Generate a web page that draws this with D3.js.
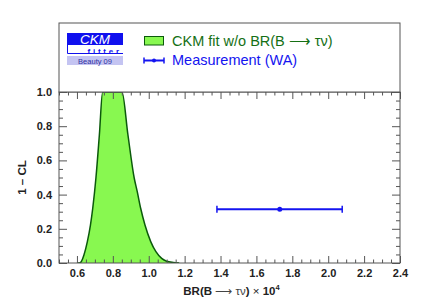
<!DOCTYPE html>
<html>
<head>
<meta charset="utf-8">
<script src="https://cdn.jsdelivr.net/npm/d3@7"></script>
<style>
  body { margin: 0; background: #fff; }
  svg { display: block; font-family: "Liberation Sans", Arial, sans-serif; }
</style>
</head>
<body>
<div id="chart"></div>
<script>
// CKM fit curve: BR(B -> tau nu) x 1e4 vs 1 - CL
var fitX = [0.600, 0.613, 0.625, 0.639, 0.658, 0.675, 0.688, 0.706, 0.725, 0.743,
            0.851, 0.884, 0.919, 0.936, 0.955, 0.979, 1.011, 1.040, 1.072, 1.100, 1.137, 1.170];
var fitY = [0.000, 0.000, 0.010, 0.047, 0.125, 0.220, 0.320, 0.500, 0.750, 1.000,
            1.000, 0.750, 0.497, 0.417, 0.320, 0.222, 0.125, 0.066, 0.027, 0.010, 0.003, 0.000];

// World average measurement with its error bar
var measCenter = 1.73;
var measLow = 1.38;
var measHigh = 2.078;
var measCL = 0.315;

var xTicks = [0.6, 0.8, 1.0, 1.2, 1.4, 1.6, 1.8, 2.0, 2.2, 2.4];
var yTicks = [0.0, 0.2, 0.4, 0.6, 0.8, 1.0];

var legendLabels = ["CKM fit w/o BR(B \u27f6 \u03c4\u03bd)", "Measurement (WA)"];

var fitData = fitX.map(function(d, i) { return {x: d, y: fitY[i]}; });

var width = 421, height = 307;
var margin = {left: 59, right: 21, top: 92, bottom: 44};
var w = width - margin.left - margin.right;
var h = height - margin.top - margin.bottom;

var green = "#88f850", darkGreen = "#0b5a0b", blue = "#1414f0", frame = "#555";

var svg = d3.select("#chart").append("svg")
    .attr("width", width)
    .attr("height", height);

var chart = svg.append("g")
    .attr("transform", "translate(" + margin.left + "," + margin.top + ")");

var x = d3.scaleLinear().domain([0.5, 2.4]).range([0, w]);
var y = d3.scaleLinear().domain([0, 1]).range([h, 0]);

// clip so the curve does not poke through the frame
chart.append("clipPath").attr("id", "clip")
    .append("rect").attr("width", w).attr("height", h);

var area = d3.area()
    .x(function(d) { return x(d.x); })
    .y0(h)
    .y1(function(d) { return y(d.y); })
    .curve(d3.curveMonotoneX);

var line = d3.line()
    .x(function(d) { return x(d.x); })
    .y(function(d) { return y(d.y); })
    .curve(d3.curveMonotoneX);

var plot = chart.append("g").attr("clip-path", "url(#clip)");

plot.append("path")
    .datum(fitData)
    .attr("d", area)
    .attr("fill", green);

plot.append("path")
    .datum(fitData)
    .attr("d", line)
    .attr("fill", "none")
    .attr("stroke", darkGreen)
    .attr("stroke-width", 1.5);

// measurement point with horizontal error bar
var meas = chart.append("g").attr("stroke", blue).attr("fill", blue);
meas.append("line")
    .attr("x1", x(measLow)).attr("x2", x(measHigh))
    .attr("y1", y(measCL)).attr("y2", y(measCL))
    .attr("stroke-width", 2);
[measLow, measHigh].forEach(function(v) {
    meas.append("line")
        .attr("x1", x(v)).attr("x2", x(v))
        .attr("y1", y(measCL) - 3.5).attr("y2", y(measCL) + 3.5)
        .attr("stroke-width", 1.5);
});
meas.append("circle")
    .attr("cx", x(measCenter)).attr("cy", y(measCL)).attr("r", 2.5)
    .attr("stroke", "none");

// minor tick values
var xMinor = d3.range(0.5, 2.4001, 0.05).filter(function(v) {
    return Math.abs(v * 5 - Math.round(v * 5)) > 1e-6;
});
var yMinor = d3.range(0, 1.0001, 0.05).filter(function(v) {
    return Math.abs(v * 5 - Math.round(v * 5)) > 1e-6;
});

function styleAxis(g) {
    g.select(".domain").remove();
    g.selectAll(".tick line").attr("stroke", frame);
    g.selectAll("text")
        .attr("fill", "#222")
        .style("font-size", "11px")
        .style("font-weight", "bold");
}

// bottom axis
chart.append("g")
    .attr("transform", "translate(0," + h + ")")
    .call(d3.axisBottom(x).tickValues(xTicks).tickFormat(d3.format(".1f"))
        .tickSizeInner(-7).tickSizeOuter(0).tickPadding(6))
    .call(styleAxis);
chart.append("g")
    .attr("transform", "translate(0," + h + ")")
    .call(d3.axisBottom(x).tickValues(xMinor).tickFormat("")
        .tickSizeInner(-3.5).tickSizeOuter(0))
    .call(styleAxis);
// top axis (mirrored ticks)
chart.append("g")
    .call(d3.axisTop(x).tickValues(xTicks).tickFormat("")
        .tickSizeInner(-7).tickSizeOuter(0))
    .call(styleAxis);
chart.append("g")
    .call(d3.axisTop(x).tickValues(xMinor).tickFormat("")
        .tickSizeInner(-3.5).tickSizeOuter(0))
    .call(styleAxis);

// left axis
chart.append("g")
    .call(d3.axisLeft(y).tickValues(yTicks).tickFormat(d3.format(".1f"))
        .tickSizeInner(-8).tickSizeOuter(0).tickPadding(7))
    .call(styleAxis);
chart.append("g")
    .call(d3.axisLeft(y).tickValues(yMinor).tickFormat("")
        .tickSizeInner(-4).tickSizeOuter(0))
    .call(styleAxis);
// right axis (mirrored ticks)
chart.append("g")
    .attr("transform", "translate(" + w + ",0)")
    .call(d3.axisRight(y).tickValues(yTicks).tickFormat("")
        .tickSizeInner(-8).tickSizeOuter(0))
    .call(styleAxis);
chart.append("g")
    .attr("transform", "translate(" + w + ",0)")
    .call(d3.axisRight(y).tickValues(yMinor).tickFormat("")
        .tickSizeInner(-4).tickSizeOuter(0))
    .call(styleAxis);

// plot frame
chart.append("rect")
    .attr("width", w).attr("height", h)
    .attr("fill", "none").attr("stroke", frame).attr("stroke-width", 1);

// axis titles
var xTitle = svg.append("text")
    .attr("x", margin.left + w / 2 + 2)
    .attr("y", 295)
    .attr("text-anchor", "middle")
    .attr("fill", "#222")
    .style("font-size", "11.5px")
    .style("font-weight", "bold");
xTitle.append("tspan").text("BR(B ");
xTitle.append("tspan").style("font-weight", "normal").attr("fill", "#444").text("\u27f6 \u03c4\u03bd");
xTitle.append("tspan").text(") ");
xTitle.append("tspan").style("font-weight", "normal").text("\u00d7 ");
xTitle.append("tspan").text("10");
xTitle.append("tspan").attr("dy", -5).style("font-size", "7.5px").text("4");

svg.append("text")
    .attr("transform", "translate(26," + (margin.top + h / 2) + ") rotate(-90)")
    .attr("text-anchor", "middle")
    .attr("fill", "#222")
    .style("font-size", "11.5px")
    .style("font-weight", "bold")
    .text("1 \u2013 CL");

// legend box sitting on top of the plot
var legend = svg.append("g");
legend.append("rect")
    .attr("x", margin.left).attr("y", 23)
    .attr("width", w).attr("height", margin.top - 23)
    .attr("fill", "#fff").attr("stroke", frame).attr("stroke-width", 1);

// CKMfitter logo
var logo = legend.append("g").attr("transform", "translate(67,33)");
logo.append("rect").attr("width", 56).attr("height", 12).attr("fill", "#1010ee");
logo.append("text")
    .attr("x", 28).attr("y", 10.5)
    .attr("text-anchor", "middle")
    .attr("fill", "#fff")
    .style("font-size", "13.5px")
    .style("font-style", "italic")
    .text("CKM");
logo.append("path")
    .attr("d", "M0.5,12 V20.5 H56")
    .attr("fill", "none").attr("stroke", "#1010ee").attr("stroke-width", 1);
logo.append("text")
    .attr("x", 55).attr("y", 20.5)
    .attr("text-anchor", "end")
    .attr("fill", "#1010ee")
    .style("font-size", "8px")
    .style("font-weight", "bold")
    .style("letter-spacing", "2.8px")
    .text("fitter");
logo.append("rect").attr("y", 23).attr("width", 56).attr("height", 9).attr("fill", "#c4c4f2");
logo.append("text")
    .attr("x", 28).attr("y", 30.5)
    .attr("text-anchor", "middle")
    .attr("fill", "#3030a0")
    .style("font-size", "7.5px")
    .text("Beauty 09");

// legend entries
legend.append("rect")
    .attr("x", 144.5).attr("y", 36.5).attr("width", 19).attr("height", 8.5)
    .attr("fill", green).attr("stroke", darkGreen).attr("stroke-width", 1);
legend.append("text")
    .attr("x", 172).attr("y", 46)
    .attr("fill", "#157015")
    .style("font-size", "14.5px")
    .text(legendLabels[0]);

var lm = legend.append("g").attr("stroke", blue).attr("fill", blue);
lm.append("line").attr("x1", 144).attr("x2", 164).attr("y1", 60.5).attr("y2", 60.5).attr("stroke-width", 2);
lm.append("line").attr("x1", 144).attr("x2", 144).attr("y1", 57.5).attr("y2", 63.5).attr("stroke-width", 1.5);
lm.append("line").attr("x1", 164).attr("x2", 164).attr("y1", 57.5).attr("y2", 63.5).attr("stroke-width", 1.5);
lm.append("circle").attr("cx", 154).attr("cy", 60.5).attr("r", 2).attr("stroke", "none");
legend.append("text")
    .attr("x", 172).attr("y", 65)
    .attr("fill", blue)
    .style("font-size", "14.5px")
    .text(legendLabels[1]);
</script>
</body>
</html>
